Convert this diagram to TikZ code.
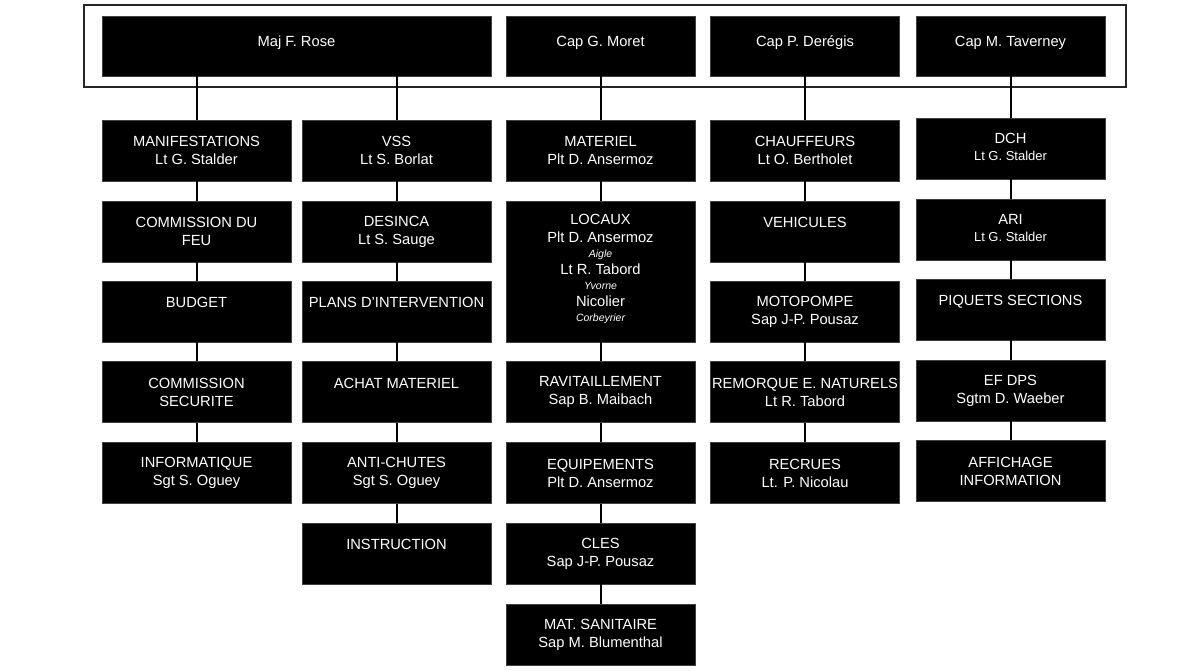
\documentclass[tikz,border=0pt]{standalone}
\usepackage{fontspec}
\setmainfont{Liberation Sans}
\begin{document}
\begin{tikzpicture}[x=1pt,y=-1pt,
  unit/.style={fill=black,draw=black!75,line width=0.5pt,minimum width=189pt,minimum height=61pt,
    inner sep=0pt,text=white,align=center,font=\fontsize{14.7}{18}\selectfont},
  head/.style={unit,minimum height=60pt,text depth=9pt},
  tall/.style={unit,minimum height=141pt},
  link/.style={line width=2pt,black}]
\useasboundingbox (0,0) rectangle (1191,671);
% frame round the heads
\draw[line width=2pt,black!85] (84,5) rectangle (1126,87);
% heads
\node[head,minimum width=389pt] (rose) at (296.5,46) {Maj F. Rose};
\node[head] (moret) at (600.5,46) {Cap G. Moret};
\node[head] (deregis) at (805,46) {Cap P. Derégis};
\node[head] (taverney) at (1010.5,46) {Cap M. Taverney};
% first column
\node[unit] (manif) at (196.5,150.5) {MANIFESTATIONS\\Lt G. Stalder};
\node[unit] (comfeu) at (196.5,231.5) {COMMISSION DU\\FEU};
\node[unit] (budget) at (196.5,311.5) {BUDGET\\\mbox{}};
\node[unit] (comsec) at (196.5,392) {COMMISSION\\SECURITE};
\node[unit] (info) at (196.5,473) {INFORMATIQUE\\Sgt S. Oguey};
% second column
\node[unit] (vss) at (396.5,150.5) {VSS\\Lt S. Borlat};
\node[unit] (desinca) at (396.5,231.5) {DESINCA\\Lt S. Sauge};
\node[unit] (plans) at (396.5,311.5) {PLANS D’INTERVENTION\\\mbox{}};
\node[unit] (achat) at (396.5,392) {ACHAT MATERIEL\\\mbox{}};
\node[unit] (anti) at (396.5,473) {ANTI-CHUTES\\Sgt S. Oguey};
\node[unit] (instr) at (396.5,553.5) {INSTRUCTION\\\mbox{}};
% third column
\node[unit] (mat) at (600.5,150.5) {MATERIEL\\Plt D. Ansermoz};
\node[tall] (locaux) at (600.5,271.5) {LOCAUX\\Plt D. Ansermoz\\[-3pt]
  {\fontsize{10.5}{13}\selectfont\itshape Aigle}\\[-1pt]Lt R. Tabord\\[-3pt]
  {\fontsize{10.5}{13}\selectfont\itshape Yvorne}\\[-1pt]Nicolier\\[-3pt]
  {\fontsize{10.5}{13}\selectfont\itshape Corbeyrier}\\[-10pt]\mbox{}};
\node[unit] (ravit) at (600.5,392) {RAVITAILLEMENT\\Sap B. Maibach};
\node[unit] (equip) at (600.5,473) {EQUIPEMENTS\\Plt D. Ansermoz};
\node[unit] (cles) at (600.5,553.5) {CLES\\Sap J-P. Pousaz};
\node[unit] (sanit) at (600.5,634.5) {MAT. SANITAIRE\\Sap M. Blumenthal};
% fourth column
\node[unit] (chauf) at (805,150.5) {CHAUFFEURS\\Lt O. Bertholet};
\node[unit] (vehic) at (805,231.5) {VEHICULES\\\mbox{}};
\node[unit] (moto) at (805,311.5) {MOTOPOMPE\\Sap J-P. Pousaz};
\node[unit] (remorq) at (805,392) {REMORQUE E. NATURELS\\Lt R. Tabord};
\node[unit] (recrues) at (805,473) {RECRUES\\Lt. P. Nicolau};
% fifth column
\node[unit] (dch) at (1010.5,148.5) {DCH\\[-1pt]{\fontsize{13}{15}\selectfont Lt G. Stalder}\\[-14pt]\mbox{}};
\node[unit] (ari) at (1010.5,229.5) {ARI\\[-1pt]{\fontsize{13}{15}\selectfont Lt G. Stalder}\\[-14pt]\mbox{}};
\node[unit] (piquets) at (1010.5,309.5) {PIQUETS SECTIONS\\\mbox{}};
\node[unit] (efdps) at (1010.5,390.5) {EF DPS\\Sgtm D. Waeber};
\node[unit] (affich) at (1010.5,471) {AFFICHAGE\\INFORMATION};
% links
\draw[link] (manif.north |- rose.south) -- (manif.north);
\draw[link] (vss.north |- rose.south) -- (vss.north);
\foreach \a/\b in {moret/mat,deregis/chauf,taverney/dch,
    manif/comfeu,comfeu/budget,budget/comsec,comsec/info,
    vss/desinca,desinca/plans,plans/achat,achat/anti,anti/instr,
    mat/locaux,locaux/ravit,ravit/equip,equip/cles,cles/sanit,
    chauf/vehic,vehic/moto,moto/remorq,remorq/recrues,
    dch/ari,ari/piquets,piquets/efdps,efdps/affich}
  \draw[link] (\a) -- (\b);
\end{tikzpicture}
\end{document}
